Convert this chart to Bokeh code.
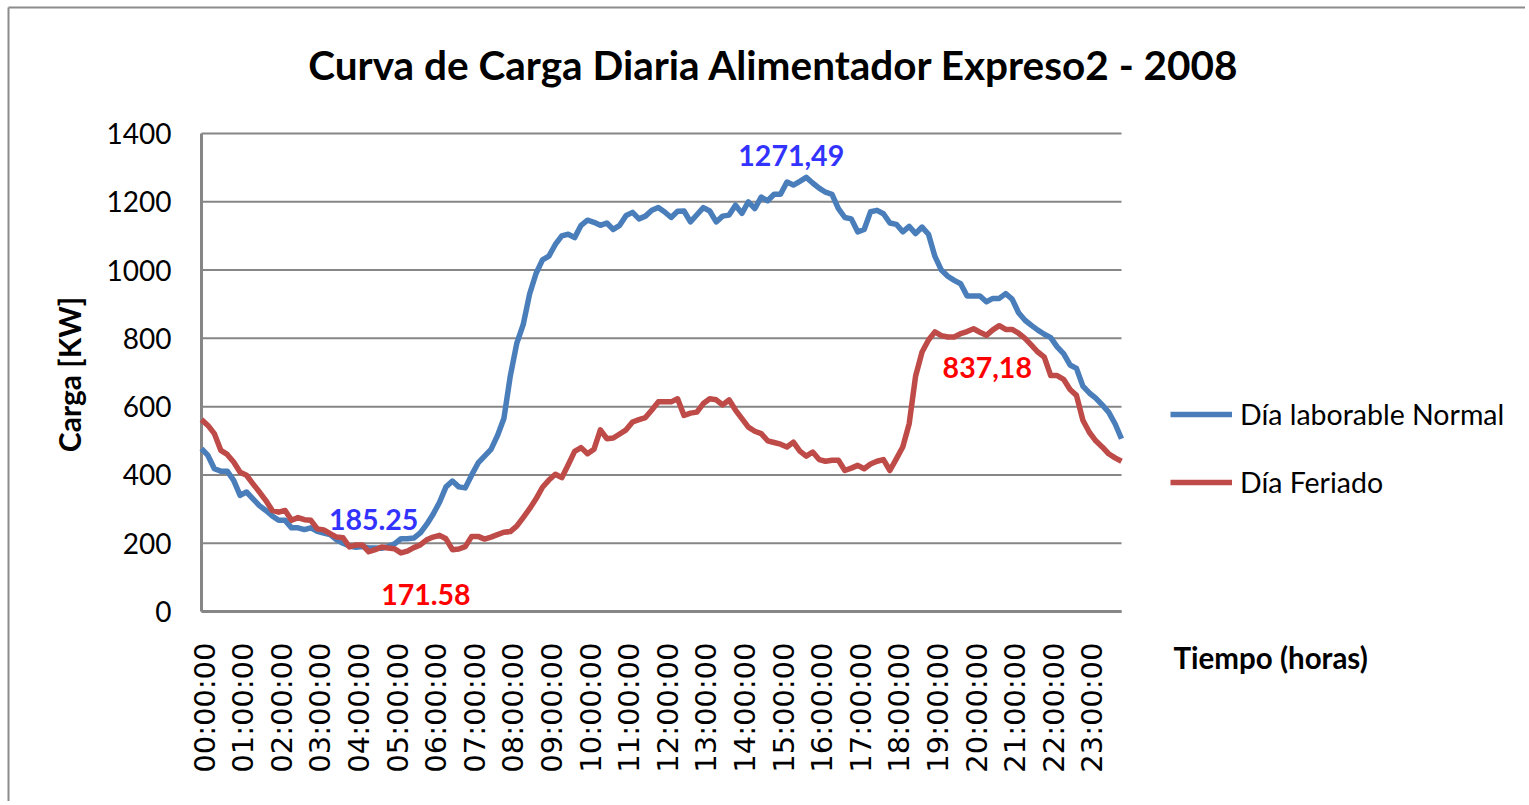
import numpy as np
from math import pi
from bokeh.plotting import figure
from bokeh.models import Range1d, Label, LabelSet, Legend, LegendItem, ColumnDataSource
from bokeh.core.properties import value
from bokeh.embed import file_html
from bokeh.resources import INLINE

# ---------------- data (10-minute samples, 00:00 .. 23:50) ----------------
times = [f"{h:02d}:{m:02d}:00" for h in range(24) for m in range(0, 60, 10)]

dia_laborable = [
    477, 457, 418, 411, 411, 384, 340, 350, 330, 310,
    296, 280, 267, 267, 245, 245, 240, 245, 235, 230,
    225, 210, 200, 192, 188, 190, 186, 186, 185.25, 190,
    198, 213, 213, 215, 230, 255, 285, 320, 365, 382,
    365, 362, 400, 435, 455, 475, 515, 565, 690, 785,
    840, 930, 990, 1030, 1041, 1075, 1100, 1105, 1095, 1131,
    1146, 1140, 1131, 1138, 1119, 1131, 1160, 1169, 1150, 1158,
    1175, 1183, 1170, 1154, 1172, 1173, 1141, 1162, 1183, 1173,
    1141, 1158, 1161, 1190, 1166, 1200, 1180, 1214, 1203, 1222,
    1222, 1258, 1249, 1260, 1271.49, 1255, 1240, 1228, 1222, 1180,
    1154, 1150, 1112, 1119, 1171, 1175, 1165, 1138, 1134, 1112,
    1128, 1107, 1126, 1105, 1040, 1000, 982, 970, 960, 924,
    924, 924, 907, 917, 917, 931, 915, 875, 853, 838,
    824, 812, 802, 775, 755, 722, 712, 660, 640, 625,
    605, 584, 550, 506,
]

dia_feriado = [
    562, 545, 521, 472, 460, 438, 408, 399, 374, 350,
    325, 296, 291, 296, 267, 275, 269, 267, 242, 239,
    228, 218, 216, 189, 195, 195, 175, 181, 189, 186,
    184, 171.58, 177, 187, 195, 210, 218, 223, 213, 181,
    183, 190, 220, 220, 212, 218, 225, 232, 234, 250,
    275, 301, 330, 364, 385, 402, 392, 430, 469, 480,
    462, 475, 532, 506, 508, 520, 532, 555, 562, 568,
    590, 614, 614, 614, 623, 574, 581, 584, 609, 623,
    620, 605, 620, 590, 565, 540, 528, 521, 500, 495,
    490, 482, 496, 470, 455, 467, 445, 440, 443, 443,
    413, 420, 428, 418, 432, 440, 445, 413, 447, 482,
    550, 690, 760, 795, 819, 808, 804, 804, 814, 820,
    828, 818, 809, 825, 837.18, 826, 826, 815, 800, 780,
    760, 745, 691, 691, 680, 650, 633, 560, 525, 500,
    482, 462, 450, 440,
]

series_names = ["Día laborable Normal", "Día Feriado"]
y_ticks = [0, 200, 400, 600, 800, 1000, 1200, 1400]
tick_step = 6                      # one x label per hour
title_text = "Curva de Carga Diaria Alimentador Expreso2 - 2008"
y_title = "Carga [KW]"
x_title = "Tiempo (horas)"
label_max_lab = "1271,49"
label_min_lab = "185.25"
label_max_fer = "837,18"
label_min_fer = "171.58"

# ---------------- layout (picture pixels) ----------------
W, H = 1525, 801
ORIG = 0                       # canvas origin in the picture
PLOT_L, PLOT_R = 201, 1121     # plot area left/right
PLOT_T, PLOT_B = 133, 611      # plot area top/bottom
N = len(times)
YMAX = y_ticks[-1]
KX = (PLOT_R - PLOT_L) / (N - 1)
KY = (PLOT_B - PLOT_T) / YMAX

def X(px):   # picture px -> data x
    return (px - PLOT_L) / KX

def Y(py):   # picture px -> data y
    return (PLOT_B - py) / KY

BLUE = "#4A7EBB"
RED = "#BE4B48"
GRID = "#868686"
FONT = "Lato"

p = figure(width=W, height=H, output_backend="svg", toolbar_location=None,
           x_range=Range1d(X(ORIG), X(ORIG + W)), y_range=Range1d(Y(ORIG + H), Y(ORIG)),
           x_axis_location=None, y_axis_location=None,
           min_border=0)
p.outline_line_color = None
p.grid.visible = False
p.background_fill_color = "white"
p.border_fill_color = "white"

# chart border (top / left)
BX, BY = 8, 7
p.segment(x0=[X(BX), X(BX)], y0=[Y(BY), Y(BY)],
          x1=[X(BX), X(ORIG + W)], y1=[Y(ORIG + H), Y(BY)],
          line_color="#8C8C8C", line_width=2)

# gridlines
ng = len(y_ticks)
p.segment(x0=[0] * ng, y0=y_ticks, x1=[N - 1] * ng, y1=y_ticks,
          line_color=GRID, line_width=2)
# axis lines
p.segment(x0=[0, 0], y0=[0, 0], x1=[0, N - 1], y1=[YMAX, 0],
          line_color=GRID, line_width=3)

# series
x = np.arange(N)
r1 = p.line(x, dia_laborable, line_color=BLUE, line_width=5.5, line_join="round")
r2 = p.line(x, dia_feriado, line_color=RED, line_width=5.5, line_join="round")

# y tick labels
ysrc = ColumnDataSource(dict(x=[0] * ng, y=y_ticks, t=[str(v) for v in y_ticks]))
p.add_layout(LabelSet(x="x", y="y", text="t", source=ysrc, x_offset=-30,
                      text_align="right", text_baseline="middle",
                      text_font=value(FONT), text_font_size=value("28px"),
                      text_color="black"))

# x tick labels (vertical)
tick_idx = list(range(0, N, tick_step))
xsrc = ColumnDataSource(dict(x=tick_idx, y=[0] * len(tick_idx), t=[times[i] for i in tick_idx]))
p.add_layout(LabelSet(x="x", y="y", text="t", source=xsrc, angle=pi / 2,
                      x_offset=3, y_offset=-31,
                      text_align="right", text_baseline="middle",
                      text_font=value("DejaVu Sans"), text_font_size=value("29px"),
                      text_color="black"))

# titles
p.add_layout(Label(x=X(773.5), y=Y(64), text=title_text,
                   text_align="center", text_baseline="middle", text_font=FONT,
                   text_font_size="40.5px", text_font_style="bold", text_color="black"))
p.add_layout(Label(x=X(68), y=Y(374), text=y_title, angle=pi / 2,
                   text_align="center", text_baseline="middle", text_font=FONT,
                   text_font_size="30px", text_font_style="bold", text_color="black"))
p.add_layout(Label(x=X(1173), y=Y(657), text=x_title,
                   text_align="left", text_baseline="middle", text_font=FONT,
                   text_font_size="29.5px", text_font_style="bold", text_color="black"))

# data labels
lab = np.array(dia_laborable, dtype=float)
fer = np.array(dia_feriado, dtype=float)
LBL = dict(text_font=FONT, text_font_size="28.5px", text_font_style="bold", text_align="center")
p.add_layout(Label(x=int(lab.argmax()), y=lab.max(), text=label_max_lab, x_offset=-15, y_offset=11,
                   text_baseline="bottom", text_color="#3333FF", **LBL))
p.add_layout(Label(x=int(lab.argmin()), y=lab.min(), text=label_min_lab, x_offset=-8, y_offset=18,
                   text_baseline="bottom", text_color="#3333FF", **LBL))
p.add_layout(Label(x=int(fer.argmax()), y=fer.max(), text=label_max_fer, x_offset=-12, y_offset=-31,
                   text_baseline="top", text_color="#FF0000", **LBL))
p.add_layout(Label(x=int(fer.argmin()), y=fer.min(), text=label_min_fer, x_offset=25, y_offset=-31,
                   text_baseline="top", text_color="#FF0000", **LBL))

# legend (location measured from the canvas bottom-left)
legend = Legend(items=[LegendItem(label=series_names[0], renderers=[r1]),
                       LegendItem(label=series_names[1], renderers=[r2])],
                location=(1170 - ORIG, ORIG + H - 499), orientation="vertical",
                glyph_width=62, glyph_height=30, label_height=30, spacing=34,
                label_standoff=8, padding=0, margin=0,
                border_line_color=None, background_fill_alpha=0,
                label_text_font=FONT, label_text_font_size="28.5px", label_text_color="black")
p.add_layout(legend, "center")

open("out.html", "w").write(file_html(p, INLINE))
